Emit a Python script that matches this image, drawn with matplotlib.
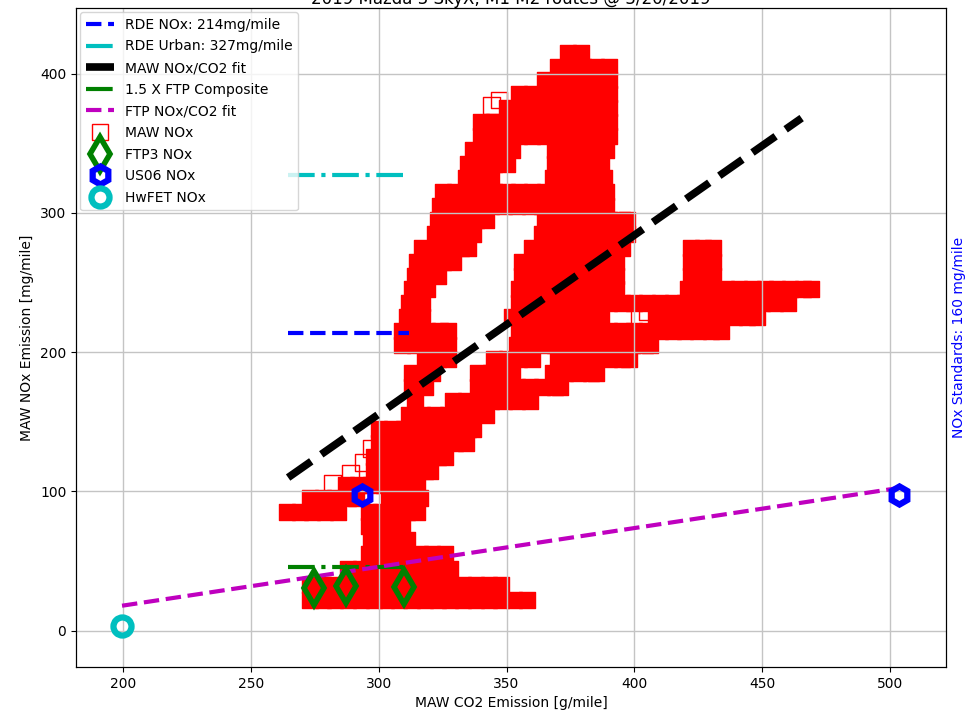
import numpy as np
import matplotlib.pyplot as plt
from matplotlib.lines import Line2D

# Reference levels [mg/mile]
rde_nox = 214
rde_urban = 327
ftp_comp_15x = 46
ref_co2 = [264.5, 310.0]
rde_co2 = [264.5, 312.0]

# Fit lines (NOx vs CO2)
maw_fit_co2 = [264.5, 465.5]
maw_fit_nox = [110.0, 368.0]
ftp_fit_co2 = [199.5, 503.5]
ftp_fit_nox = [18.0, 102.5]

# Dyno cycle results
ftp3_co2 = [274.5, 287.0, 310.0]
ftp3_nox = [31.0, 32.0, 31.5]
us06_co2 = [293.5, 503.5]
us06_nox = [97.5, 97.5]
hwfet_co2 = [199.5]
hwfet_nox = [3.5]

# MAW windows, grouped by NOx level: (NOx, [CO2 ...])
maw_rows = [
    (415, [374, 379]),
    (405, [370, 375, 380, 385, 390]),
    (395, [365, 370, 375, 380, 385, 390]),
    (385, [355, 360, 365, 370, 375, 380, 385, 390]),
    (375, [350, 355, 360, 365, 370, 375, 380, 385, 390]),
    (365, [340, 345, 350, 355, 360, 365, 370, 375, 380, 385, 390]),
    (355, [340, 345, 350, 355, 360, 365, 370, 375, 380, 385, 390]),
    (345, [337, 342, 347, 352, 369, 374, 379, 384, 389]),
    (335, [335, 340, 345, 350, 369, 374, 379, 384, 387]),
    (325, [334, 339, 344, 368, 373, 378, 383, 388]),
    (315, [325, 330, 335, 340, 345, 350, 355, 360, 365, 370, 375, 380, 385, 389]),
    (305, [324, 329, 334, 339, 344, 349, 354, 359, 364, 369, 374, 379, 384, 389]),
    (295, [323, 328, 333, 338, 342, 365, 370, 375, 380, 385, 390, 395, 397]),
    (285, [322, 327, 332, 337, 364, 369, 374, 379, 384, 389, 394, 397]),
    (275, [317, 322, 327, 332, 335, 360, 365, 370, 375, 380, 385, 390, 395,
           422, 427, 431]),
    (265, [315, 320, 325, 329, 356, 361, 366, 371, 376, 381, 386, 391, 393,
           422, 427, 431]),
    (255, [314, 319, 323, 356, 361, 366, 371, 376, 381, 386, 391, 393,
           422, 427, 431]),
    (245, [313, 319, 355, 360, 365, 370, 375, 380, 385, 390, 393,
           421, 426, 431, 436, 441, 446, 451, 456, 461, 466, 469]),
    (235, [312, 317, 355, 360, 365, 370, 375, 380, 385, 390, 395, 400, 405,
           410, 415, 420, 425, 430, 435, 440, 445, 450, 455, 460]),
    (225, [311, 317, 352, 357, 362, 367, 372, 377, 382, 387,
           409, 414, 419, 424, 429, 434, 439, 444, 448]),
    (215, [309, 314, 319, 324, 327, 355, 360, 365, 370, 375, 380, 385, 390,
           395, 400, 405, 410, 415, 420, 425, 430, 434]),
    (205, [309, 314, 319, 324, 327, 354, 359, 364, 369, 374, 379, 384, 389,
           394, 399, 404, 406]),
    (195, [318, 323, 327, 345, 350, 355, 360, 370, 375, 380, 385, 390, 395, 398]),
    (185, [313, 318, 321, 339, 344, 349, 352, 368, 373, 378, 383, 385]),
    (175, [313, 318, 339, 344, 349, 354, 359, 364, 369, 371]),
    (165, [314, 329, 334, 339, 344, 349, 354, 359]),
    (155, [312, 317, 322, 327, 332, 337, 342]),
    (145, [300, 305, 310, 315, 320, 325, 330, 335, 337]),
    (135, [300, 305, 310, 315, 320, 325, 330, 334]),
    (125, [298, 303, 308, 313, 318, 323, 326]),
    (115, [298, 303, 308, 313, 318, 320]),
    (105, [287, 292, 297, 302, 307, 312, 315]),
    (95, [273, 278, 283, 288, 291, 304, 309, 314, 316]),
    (85, [264, 269, 274, 279, 284, 296, 301, 306, 311, 315]),
    (75, [296, 301, 306, 309]),
    (65, [297, 302, 307, 311]),
    (55, [296, 301, 306, 311, 316, 321, 326]),
    (44, [288, 293, 298, 303, 308, 313, 318, 323, 328]),
    (33, [273, 278, 283, 288, 293, 298, 303, 308, 313, 318, 323, 328, 333,
          338, 343, 348]),
    (22, [273, 278, 283, 288, 293, 298, 303, 308, 313, 318, 323, 328, 333,
          338, 343, 348, 353, 358]),
]

# sparse windows on the edges of the cloud
maw_edge_co2 = [344, 347, 282, 289, 294, 297, 402, 405]
maw_edge_nox = [377, 381, 106, 113, 121, 131, 226, 229]

maw_co2 = np.concatenate([row[1] for row in maw_rows])
maw_nox = np.concatenate([[row[0]] * len(row[1]) for row in maw_rows])

fig = plt.figure(figsize=(9.8, 7.16), dpi=100)
fig.subplots_adjust(left=0.0776, right=0.9653, bottom=0.0684, top=0.9888)
ax = fig.add_subplot(111)

ax.scatter(maw_co2, maw_nox, marker='s', s=144, c='r', edgecolors='r',
           linewidths=1, zorder=1)
ax.scatter(maw_edge_co2, maw_edge_nox, marker='s', s=144, facecolors='none',
           edgecolors='r', linewidths=1, zorder=1)

l1, = ax.plot(rde_co2, [rde_nox] * 2, 'b--', lw=3, zorder=3,
              label='RDE NOx: 214mg/mile')
l2, = ax.plot(ref_co2, [rde_urban] * 2, 'c-.', lw=3, zorder=3,
              label='RDE Urban: 327mg/mile')
l3, = ax.plot(maw_fit_co2, maw_fit_nox, 'k--', lw=5.5, zorder=3,
              label='MAW NOx/CO2 fit')
l4, = ax.plot(ref_co2, [ftp_comp_15x] * 2, 'g-.', lw=3, zorder=3,
              label='1.5 X FTP Composite')
l5, = ax.plot(ftp_fit_co2, ftp_fit_nox, 'm--', lw=3, zorder=3,
              label='FTP NOx/CO2 fit')
maw_handle = Line2D([], [], ls='', marker='s', ms=12, mfc='none', mec='r',
                    mew=1, label='MAW NOx')
m1, = ax.plot(ftp3_co2, ftp3_nox, ls='', marker='d', ms=17, mfc='none',
              mec='g', mew=4, zorder=4, label='FTP3 NOx')
m2, = ax.plot(us06_co2, us06_nox, ls='', marker='h', ms=13, mfc='none',
              mec='b', mew=4.5, zorder=4, label='US06 NOx')
m3, = ax.plot(hwfet_co2, hwfet_nox, ls='', marker='o', ms=13, mfc='none',
              mec='c', mew=4.5, zorder=4, label='HwFET NOx')

ax.set_xlim(181.5, 522)
ax.set_ylim(-26, 447)
ax.grid(True, color='#c4c4c4', lw=1)
ax.set_xlabel('MAW CO2 Emission [g/mile]')
ax.set_ylabel('MAW NOx Emission [mg/mile]')
ax.set_title('2019 Mazda 3 SkyX, M1 M2 routes @ 3/20/2019', fontsize=12, pad=3)
ax.legend(handles=[l1, l2, l3, l4, l5, maw_handle, m1, m2, m3],
          loc='upper left', fontsize=10, labelspacing=0.55, borderaxespad=0.3)

ax2 = ax.twinx()
ax2.set_yticks([])
ax2.set_ylabel('NOx Standards: 160 mg/mile', color='b')

fig.savefig('out.png', dpi=100)
